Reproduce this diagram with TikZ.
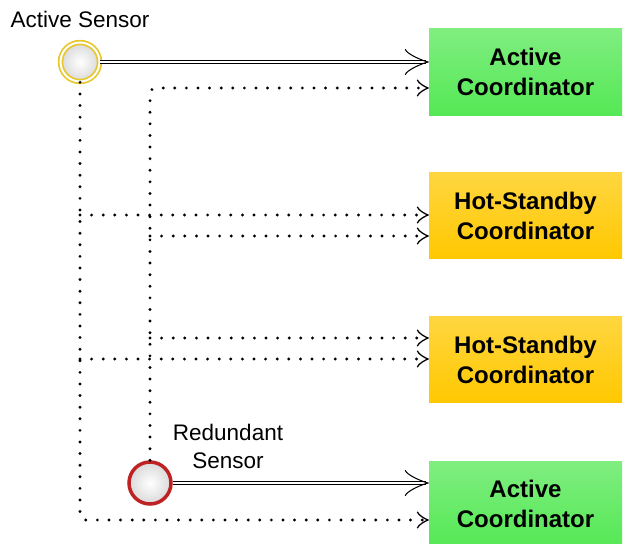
\documentclass[tikz,border=0pt]{standalone}
\usepackage{fontspec}
\setsansfont{Liberation Sans}
\usetikzlibrary{arrows.meta, positioning, calc}
\definecolor{BoxGreen}{RGB}{85,232,85}
\definecolor{BoxYellow}{RGB}{255,200,0}
\definecolor{RingYellow}{RGB}{230,198,40}
\definecolor{RingRed}{RGB}{190,34,34}
\tikzset{
  coordinador/.style={minimum width=193pt, minimum height=86pt, inner sep=0pt,
    align=center, text=black, font=\sffamily\bfseries\fontsize{24}{30}\selectfont},
  activo/.style={coordinador, top color=BoxGreen!75!white, middle color=BoxGreen, bottom color=BoxGreen},
  reserva/.style={coordinador, top color=BoxYellow!75!white, middle color=BoxYellow, bottom color=BoxYellow},
  sensor/.style={circle, inner sep=0pt, inner color=white, outer color=gray!30},
  etiqueta/.style={inner sep=0pt, align=center, font=\sffamily\fontsize{22.5}{28}\selectfont},
  solido/.style={double=white, double distance=2pt, line width=1.2pt, shorten >=3pt},
  punta/.style={line width=1.3pt, dash pattern=on 0pt off 2000pt,
    -{Classical TikZ Rightarrow[length=24pt, width=26pt]}},
  punteado/.style={line width=3.2pt, dash pattern=on 0pt off 11.6pt, line cap=round,
    -{Classical TikZ Rightarrow[length=12pt, width=17pt, line width=1.3pt]}}
}

\begin{document}
\begin{tikzpicture}[x=1pt, y=-1pt]
\useasboundingbox (0,0) rectangle (623,543);

% coordinadores
\node[activo]  (act1) at (525.5,72) {Active\\Coordinator};
\node[reserva] (hot1) at (525.5,215.8) {Hot-Standby\\Coordinator};
\node[reserva] (hot2) at (525.5,359.5) {Hot-Standby\\Coordinator};
\node[activo]  (act2) at (525.5,504) {Active\\Coordinator};

% sensores
\node[sensor, minimum size=39pt, draw=RingYellow, double=white, double distance=2pt,
  line width=1.7pt] (sensA) at (80,62) {};
\node[sensor, minimum size=42pt, draw=RingRed, line width=3.5pt] (sensR) at (150,483) {};
\node[etiqueta, above=14pt of sensA] (lblA) {Active Sensor};
\node[etiqueta] (lblR) at (228,446) {Redundant\\Sensor};

% puntos de bus
\coordinate (a2) at (80,215);
\coordinate (a3) at (80,359);
\coordinate (a4) at (80,520);
\coordinate (r1) at (150,88);
\coordinate (r2) at (150,236);
\coordinate (r3) at (150,338);

% enlaces
\draw[solido] (sensA.east) -- (sensA.east -| act1.west);
\draw[punta]  (sensA.east) -- (sensA.east -| act1.west);
\draw[solido] (sensR.east) -- (sensR.east -| act2.west);
\draw[punta]  (sensR.east) -- (sensR.east -| act2.west);

\draw[punteado, rounded corners=6pt] (sensA) -- (a4) -- (a4 -| act2.west);
\draw[punteado] (a2) -- (a2 -| hot1.west);
\draw[punteado] (a3) -- (a3 -| hot2.west);

\draw[punteado, rounded corners=6pt] (sensR) -- (r1) -- (r1 -| act1.west);
\draw[punteado] (r2) -- (r2 -| hot1.west);
\draw[punteado] (r3) -- (r3 -| hot2.west);

\end{tikzpicture}
\end{document}
